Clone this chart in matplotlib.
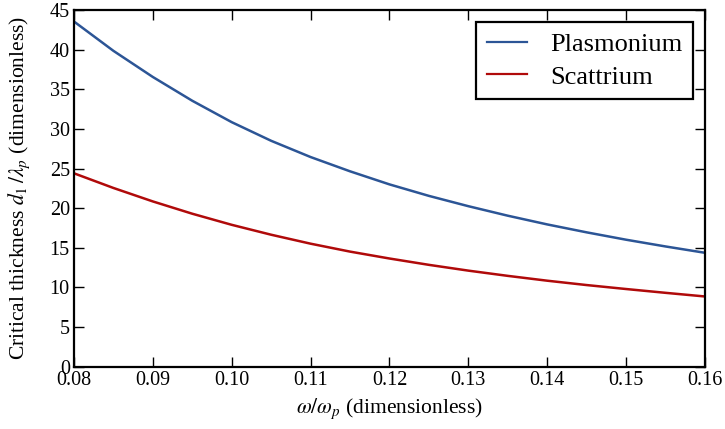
import matplotlib
matplotlib.use("Agg")
import matplotlib.pyplot as plt

plt.rcParams['font.family'] = ['Liberation Serif', 'DejaVu Serif']
plt.rcParams['mathtext.fontset'] = 'stix'

freq = [0.080, 0.085, 0.090, 0.095, 0.100, 0.105, 0.110, 0.115, 0.120,
        0.125, 0.130, 0.135, 0.140, 0.145, 0.150, 0.155, 0.160]
plasmonium = [43.55, 39.85, 36.55, 33.55, 30.85, 28.5, 26.45, 24.65, 23.0,
              21.55, 20.25, 19.05, 17.95, 16.95, 16.02, 15.17, 14.37]
scattrium = [24.4, 22.55, 20.85, 19.3, 17.9, 16.65, 15.52, 14.52, 13.65,
             12.85, 12.12, 11.46, 10.85, 10.3, 9.8, 9.32, 8.86]

xticks = [0.08, 0.09, 0.10, 0.11, 0.12, 0.13, 0.14, 0.15, 0.16]
xticklabels = ['0.08', '0.09', '0.10', '0.11', '0.12', '0.13', '0.14', '0.15', '0.16']
yticks = [0, 5, 10, 15, 20, 25, 30, 35, 40, 45]

fig = plt.figure(figsize=(7.25, 4.29), dpi=100)
ax = fig.add_axes([0.102, 0.1452, 0.8704, 0.8315])

ax.plot(freq, plasmonium, color='#2c5596', lw=1.8, label='Plasmonium')
ax.plot(freq, scattrium, color='#b00a0a', lw=1.8, label='Scattrium')

ax.set_xlim(0.08, 0.16)
ax.set_ylim(0, 45)
ax.set_xticks(xticks)
ax.set_xticklabels(xticklabels)
ax.set_yticks(yticks)
ax.tick_params(direction='in', top=True, right=True, length=7.5, width=1,
               labelsize=14.5, pad=3)
for s in ax.spines.values():
    s.set_linewidth(1.6)

ax.set_xlabel(r'$\omega/\omega_p$ (dimensionless)', fontsize=15.5, labelpad=5)
ax.set_ylabel(r'Critical thickness $d_1\,/\lambda_p$ (dimensionless)', fontsize=15.5, labelpad=13)

leg = ax.legend(loc='upper right', fontsize=19, fancybox=False, framealpha=1,
                edgecolor='black', handlelength=1.5, handletextpad=0.9,
                borderpad=0.4, labelspacing=0.35, borderaxespad=0.45)
leg.get_frame().set_linewidth(1.6)
for h in leg.get_lines():
    h.set_linewidth(1.6)

fig.savefig('out.png', dpi=100)
